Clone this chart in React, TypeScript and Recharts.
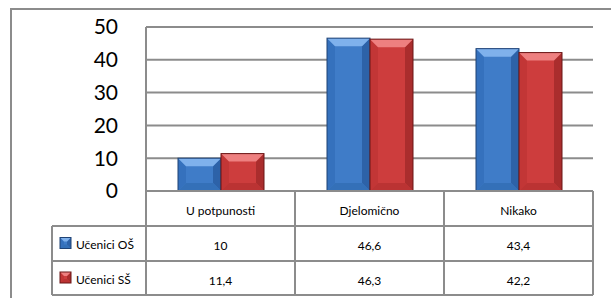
import React from "react";
import { BarChart, Bar, XAxis, YAxis, CartesianGrid } from "recharts";

const categories = ["U potpunosti", "Djelomično", "Nikako"];
const seriesNames = ["Učenici OŠ", "Učenici SŠ"];
const ucenciOS = [10, 46.6, 43.4];
const ucenciSS = [11.4, 46.3, 42.2];
const yTicks = [0, 10, 20, 30, 40, 50];

const data = categories.map((name, i) => ({ name, os: ucenciOS[i], ss: ucenciSS[i] }));
const seriesValues = [ucenciOS, ucenciSS];

const GRID = "#8c8c8c";
const FONT = "Lato, 'Open Sans', sans-serif";

type Pal = { main: string; top: string; side: string; dark: string; bottom: string; edge: string };
const BLUE: Pal = { main: "#3f7cc8", top: "#7fb1ec", side: "#3571bd", dark: "#2d62a8", bottom: "#3470b8", edge: "#1f4275" };
const RED: Pal = { main: "#cd3d3d", top: "#ee8080", side: "#c23636", dark: "#aa2d2d", bottom: "#bb3333", edge: "#6a1616" };

const fmt = (v: number) => String(v).replace(".", ",");

function bevel(x: number, y: number, w: number, h: number, p: Pal, b: number) {
  const bb = Math.min(b, w / 2, h / 2);
  return (
    <g>
      <rect x={x} y={y} width={w} height={h} fill={p.main} />
      <polygon points={`${x},${y} ${x + bb},${y + bb} ${x + bb},${y + h - bb} ${x},${y + h}`} fill={p.side} />
      <polygon points={`${x + w},${y} ${x + w - bb},${y + bb} ${x + w - bb},${y + h - bb} ${x + w},${y + h}`} fill={p.dark} />
      <polygon points={`${x},${y + h} ${x + bb},${y + h - bb} ${x + w - bb},${y + h - bb} ${x + w},${y + h}`} fill={p.bottom} />
      <polygon points={`${x},${y} ${x + w},${y} ${x + w - bb},${y + bb} ${x + bb},${y + bb}`} fill={p.top} />
      <rect x={x} y={y} width={w} height={h} fill="none" stroke={p.edge} strokeWidth={1} />
    </g>
  );
}

const makeShape = (p: Pal) => (props: any) => {
  const { x, y, width, height } = props;
  if (!height || height <= 0) return <g />;
  return bevel(x, y, width, height, p, 8);
};

function TableTick(props: any) {
  const { x, y, payload, index, width } = props;
  const cellW = width / categories.length;
  const left = x - cellW / 2;
  const right = x + cellW / 2;
  const rows = [y, y + 35, y + 70, y + 104];
  const legLeft = left - 94;
  const pals = [BLUE, RED];
  return (
    <g>
      <line x1={right} y1={rows[0]} x2={right} y2={rows[3]} stroke={GRID} strokeWidth={2} />
      {index === 0 && <line x1={left} y1={rows[0]} x2={left} y2={rows[3]} stroke={GRID} strokeWidth={2} />}
      {[1, 2, 3].map((r) => (
        <line key={r} x1={index === 0 ? legLeft : left} y1={rows[r]} x2={right} y2={rows[r]} stroke={GRID} strokeWidth={2} />
      ))}
      {index === 0 && <line x1={legLeft} y1={rows[1]} x2={legLeft} y2={rows[3]} stroke={GRID} strokeWidth={2} />}
      <text x={x} y={(rows[0] + rows[1]) / 2 + 2} textAnchor="middle" dominantBaseline="central" fontSize={12} fontFamily={FONT} fill="#000">
        {payload.value}
      </text>
      {seriesValues.map((vals, s) => (
        <text key={s} x={x} y={(rows[s + 1] + rows[s + 2]) / 2 + 2} textAnchor="middle" dominantBaseline="central" fontSize={12} fontFamily={FONT} fill="#000">
          {fmt(vals[index])}
        </text>
      ))}
      {index === 0 &&
        seriesNames.map((n, s) => {
          const cy = (rows[s + 1] + rows[s + 2]) / 2;
          return (
            <g key={n}>
              {bevel(legLeft + 8, cy - 6, 11, 11, pals[s], 4)}
              <text x={legLeft + 24} y={cy + 1} dominantBaseline="central" fontSize={12} fontFamily={FONT} fill="#000">
                {n}
              </text>
            </g>
          );
        })}
    </g>
  );
}

export default function App() {
  return (
    <div style={{ position: "absolute", left: 0, top: 0, width: 611, height: 298, overflow: "hidden", background: "#fff" }}>
      <div style={{ position: "absolute", left: 10, top: 8, width: 700, height: 400, borderLeft: `2px solid ${GRID}`, borderTop: `2px solid ${GRID}` }} />
      <div style={{ position: "absolute", left: 0, top: 0 }}>
        <BarChart width={611} height={298} data={data} margin={{ top: 27, right: 18, bottom: 0, left: 100 }} barGap={0} barSize={43}>
          <CartesianGrid vertical={false} stroke={GRID} strokeWidth={2} />
          <YAxis
            width={46}
            domain={[0, 50]}
            ticks={yTicks}
            tickLine={false}
            tickSize={0}
            tickMargin={28}
            axisLine={{ stroke: GRID, strokeWidth: 2 }}
            tick={{ fontSize: 21, fontFamily: FONT, fill: "#000" }}
          />
          <XAxis dataKey="name" height={107} axisLine={{ stroke: GRID, strokeWidth: 2 }} tickLine={false} tickSize={0} tickMargin={0} tick={<TableTick />} interval={0} />
          <Bar dataKey="os" name={seriesNames[0]} shape={makeShape(BLUE)} isAnimationActive={false} />
          <Bar dataKey="ss" name={seriesNames[1]} shape={makeShape(RED)} isAnimationActive={false} />
        </BarChart>
      </div>
    </div>
  );
}
